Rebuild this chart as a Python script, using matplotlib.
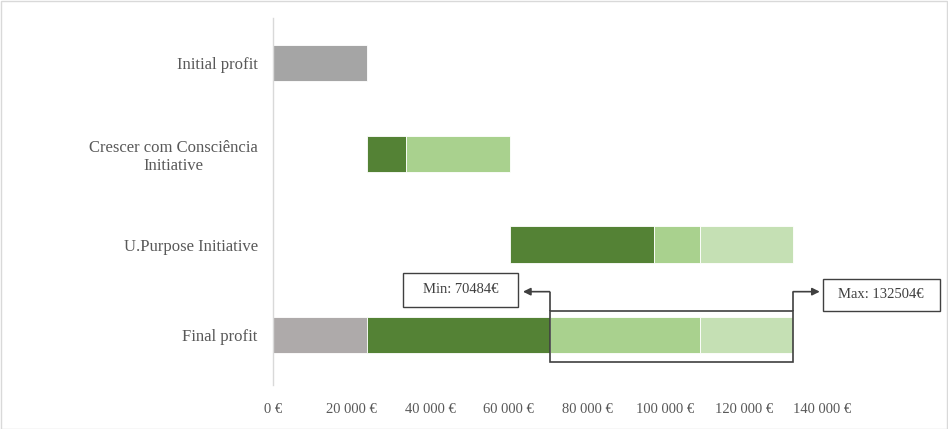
import matplotlib
matplotlib.use("Agg")
import matplotlib.pyplot as plt
import matplotlib.transforms as mtransforms
from matplotlib.patches import Rectangle
from matplotlib.ticker import FuncFormatter

plt.rcParams['font.family'] = ['Liberation Serif', 'DejaVu Serif']

# Profit build-up (EUR)
categories = ["Initial profit", "Crescer com Consciência\nInitiative",
              "U.Purpose Initiative", "Final profit"]
initial_profit = 23950
cc_min = 9950        # Crescer com Consciência, guaranteed part
cc_extra = 26500     # Crescer com Consciência, potential part
up_min = 36584       # U.Purpose, guaranteed part
up_mid = 11720       # U.Purpose, intermediate part
up_max = 23800       # U.Purpose, upper part
x_ticks = [0, 20000, 40000, 60000, 80000, 100000, 120000, 140000]

GREY_START = "#A5A5A5"
GREY_END = "#AEAAAA"
DARK = "#548235"
MID = "#A9D18E"
LIGHT = "#C5E0B4"
INK = "#404040"
TEXT = "#595959"

min_total = initial_profit + cc_min + up_min
max_total = initial_profit + cc_min + cc_extra + up_min + up_mid + up_max

fig = plt.figure(figsize=(9.48, 4.29), dpi=100)
ax = fig.add_axes([273 / 948, 1 - 385 / 429, 628 / 948, 367 / 429])

h = 0.4
kw = dict(height=h, edgecolor="white", linewidth=0.6)

# Initial profit
ax.barh(0, initial_profit, color=GREY_START, **kw)
# Crescer com Consciência
ax.barh(1, cc_min, left=initial_profit, color=DARK, **kw)
ax.barh(1, cc_extra, left=initial_profit + cc_min, color=MID, **kw)
# U.Purpose
up_start = initial_profit + cc_min + cc_extra
ax.barh(2, up_min, left=up_start, color=DARK, **kw)
ax.barh(2, up_mid, left=up_start + up_min, color=MID, **kw)
ax.barh(2, up_max, left=up_start + up_min + up_mid, color=LIGHT, **kw)
# Final profit
ax.barh(3, initial_profit, color=GREY_END, **kw)
ax.barh(3, cc_min + up_min, left=initial_profit, color=DARK, **kw)
ax.barh(3, cc_extra + up_mid, left=min_total, color=MID, **kw)
ax.barh(3, up_max, left=min_total + cc_extra + up_mid, color=LIGHT, **kw)

ax.set_xlim(0, 160000)
ax.set_ylim(3.55, -0.5)

ax.set_yticks(range(len(categories)))
ax.set_yticklabels(categories, fontsize=12, color=TEXT)
for lbl in ax.get_yticklabels():
    lbl.set_multialignment("center")
    lbl.set_linespacing(1.15)
ax.set_xticks(x_ticks)
ax.xaxis.set_major_formatter(FuncFormatter(
    lambda v, _: f"{int(v):,}".replace(",", " ") + " €"))
ax.tick_params(axis="x", length=0, pad=13, labelsize=10.5, labelcolor=TEXT)
ax.tick_params(axis="y", length=0, pad=11)

for side in ("top", "right", "bottom"):
    ax.spines[side].set_visible(False)
ax.spines["left"].set_color("#D9D9D9")
ax.spines["left"].set_linewidth(1.0)

# Range bracket around the uncertain part of the final profit
rect_top = 3 - 0.27
rect_bot = 3 + 0.30
elbow_y = 3 - 0.48
ax.add_patch(Rectangle((min_total, rect_top), max_total - min_total,
                       rect_bot - rect_top, fill=False, edgecolor=INK,
                       linewidth=1.2, clip_on=False, zorder=5))

arrow_gap = 6800
for x0, tip in ((min_total, min_total - arrow_gap),
                (max_total, max_total + arrow_gap)):
    ax.plot([x0, x0], [rect_top, elbow_y], color=INK, lw=1.2,
            clip_on=False, zorder=5, solid_capstyle="butt")
    ax.annotate("", xy=(tip, elbow_y), xytext=(x0, elbow_y),
                arrowprops=dict(arrowstyle="-|>", color=INK, lw=1.2,
                                mutation_scale=11, shrinkA=0, shrinkB=0),
                annotation_clip=False, zorder=5)

def callout(tip, x0_in, x1_in, y0_in, y1_in, label):
    tr = fig.dpi_scale_trans + mtransforms.ScaledTranslation(
        tip, elbow_y, ax.transData)
    box = Rectangle((x0_in, y0_in), x1_in - x0_in, y1_in - y0_in,
                    transform=tr, fill=True, facecolor="white",
                    edgecolor=INK, linewidth=1.0, clip_on=False, zorder=6)
    fig.add_artist(box)
    fig.text((x0_in + x1_in) / 2, (y0_in + y1_in) / 2, label,
             transform=tr, ha="center", va="center", fontsize=10.5,
             color=INK, zorder=7)

callout(min_total - arrow_gap, -1.20, -0.05, -0.15, 0.19,
        f"Min: {min_total}€")
callout(max_total + arrow_gap, 0.03, 1.20, -0.19, 0.13,
        f"Max: {max_total}€")

# Chart frame
fig.add_artist(Rectangle((0.5 / 948, 0.5 / 429), 946.5 / 948, 427.5 / 429,
                         transform=fig.transFigure, fill=False,
                         edgecolor="#D9D9D9", linewidth=1.0))

fig.savefig("out.png", dpi=100)
